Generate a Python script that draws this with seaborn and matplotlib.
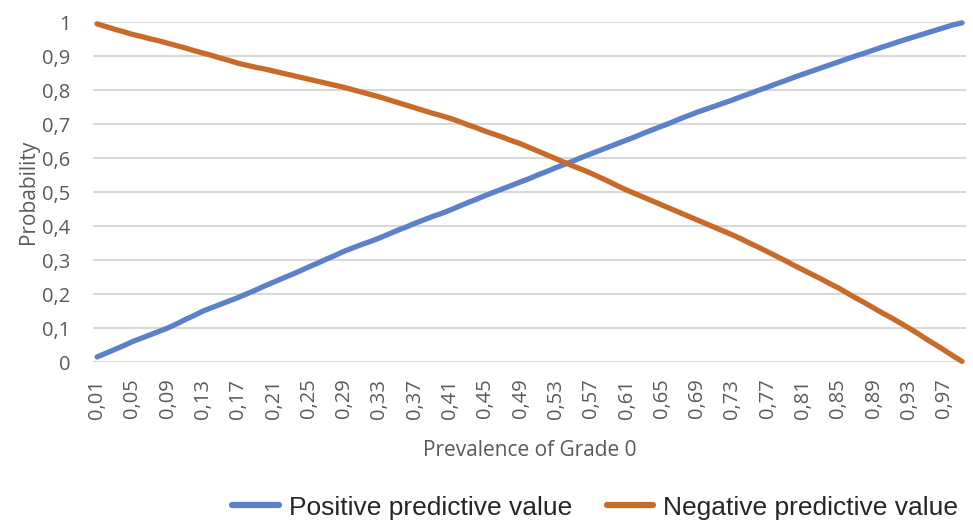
import numpy as np
import pandas as pd
import matplotlib
matplotlib.use("Agg")
import matplotlib.pyplot as plt
import seaborn as sns

# Categories: prevalence of Grade 0 (0.01 .. 0.99)
prevalence = [round(i / 100, 2) for i in range(1, 100)]

ppv = [0.015, 0.026, 0.037, 0.048, 0.060,
       0.070, 0.080, 0.090, 0.100,
       0.112, 0.125, 0.137, 0.150,
       0.160, 0.170, 0.180, 0.190,
       0.201, 0.212, 0.224, 0.235,
       0.246, 0.257, 0.268, 0.280,
       0.291, 0.303, 0.314, 0.326,
       0.336, 0.346, 0.355, 0.365,
       0.376, 0.387, 0.397, 0.408,
       0.418, 0.428, 0.437, 0.447,
       0.458, 0.469, 0.479, 0.490,
       0.500, 0.510, 0.520, 0.530,
       0.540, 0.551, 0.561, 0.572,
       0.582, 0.592, 0.603, 0.613,
       0.623, 0.633, 0.643, 0.653,
       0.663, 0.674, 0.684, 0.694,
       0.704, 0.715, 0.725, 0.735,
       0.744, 0.753, 0.762, 0.771,
       0.781, 0.790, 0.800, 0.809,
       0.819, 0.828, 0.838, 0.847,
       0.856, 0.865, 0.874, 0.883,
       0.892, 0.901, 0.909, 0.918,
       0.927, 0.935, 0.944, 0.952,
       0.960, 0.968, 0.976, 0.984,
       0.992, 0.998]

npv = [0.995, 0.987, 0.979, 0.972, 0.964,
       0.958, 0.951, 0.945, 0.938,
       0.931, 0.924, 0.916, 0.909,
       0.902, 0.894, 0.887, 0.879,
       0.873, 0.867, 0.862, 0.856,
       0.850, 0.844, 0.838, 0.832,
       0.826, 0.820, 0.814, 0.808,
       0.801, 0.794, 0.787, 0.780,
       0.772, 0.764, 0.756, 0.748,
       0.740, 0.732, 0.725, 0.717,
       0.708, 0.698, 0.689, 0.679,
       0.670, 0.661, 0.651, 0.642,
       0.631, 0.620, 0.609, 0.598,
       0.587, 0.576, 0.566, 0.555,
       0.543, 0.531, 0.518, 0.506,
       0.495, 0.484, 0.473, 0.462,
       0.451, 0.440, 0.429, 0.418,
       0.407, 0.396, 0.385, 0.374,
       0.362, 0.349, 0.337, 0.324,
       0.311, 0.298, 0.284, 0.271,
       0.258, 0.245, 0.231, 0.218,
       0.203, 0.188, 0.174, 0.159,
       0.144, 0.130, 0.115, 0.100,
       0.084, 0.067, 0.051, 0.035,
       0.018, 0.002]

series_names = ["Positive predictive value", "Negative predictive value"]
colors = ["#5b80cc", "#c96a28"]

x_tick_values = prevalence[::4]
x_tick_labels = [f"{v:.2f}".replace(".", ",") for v in x_tick_values]
y_tick_values = [i / 10 for i in range(11)]
y_tick_labels = ["0"] + [f"0,{i}" for i in range(1, 10)] + ["1"]

df = pd.DataFrame({
    "prevalence": prevalence * 2,
    "value": ppv + npv,
    "series": [series_names[0]] * len(ppv) + [series_names[1]] * len(npv),
})

sns.set_style("white")
plt.rcParams["font.family"] = ["Open Sans", "DejaVu Sans"]

fig = plt.figure(figsize=(9.73, 5.27), dpi=100)
ax = fig.add_axes([0.0952, 0.313, 0.898, 0.645])

sns.lineplot(data=df, x="prevalence", y="value", hue="series",
             palette=dict(zip(series_names, colors)), linewidth=3.8,
             ax=ax, legend=False, solid_capstyle="round")
for ln in ax.lines:
    ln.set_clip_on(False)

ax.set_xlim(0.005, 0.995)
ax.set_ylim(0, 1)
ax.set_yticks(y_tick_values)
ax.set_yticklabels(y_tick_labels)
ax.set_xticks(x_tick_values)
ax.set_xticklabels(x_tick_labels, rotation=90)
ax.tick_params(axis="both", length=0, labelsize=14.5, labelcolor="#595959")
ax.tick_params(axis="y", pad=16)
ax.tick_params(axis="x", pad=12)

ax.grid(axis="y", color="#d9d9d9", linewidth=1.5)
ax.grid(axis="x", visible=False)
ax.set_axisbelow(True)
for s in ax.spines.values():
    s.set_visible(False)

ax.set_xlabel("Prevalence of Grade 0", fontsize=15, color="#595959", labelpad=15)
ax.set_ylabel("Probability", fontsize=15, color="#595959", labelpad=2)

handles = [plt.Line2D([0], [0], color=c, linewidth=4.5, solid_capstyle="round") for c in colors]
fig.legend(handles, series_names, loc="center", bbox_to_anchor=(0.612, 0.037),
           ncol=2, frameon=False, handlelength=1.75, handletextpad=0.4,
           columnspacing=1.3,
           prop={"family": ["Liberation Sans", "DejaVu Sans"], "size": 19})

fig.savefig("out.png", dpi=100)
